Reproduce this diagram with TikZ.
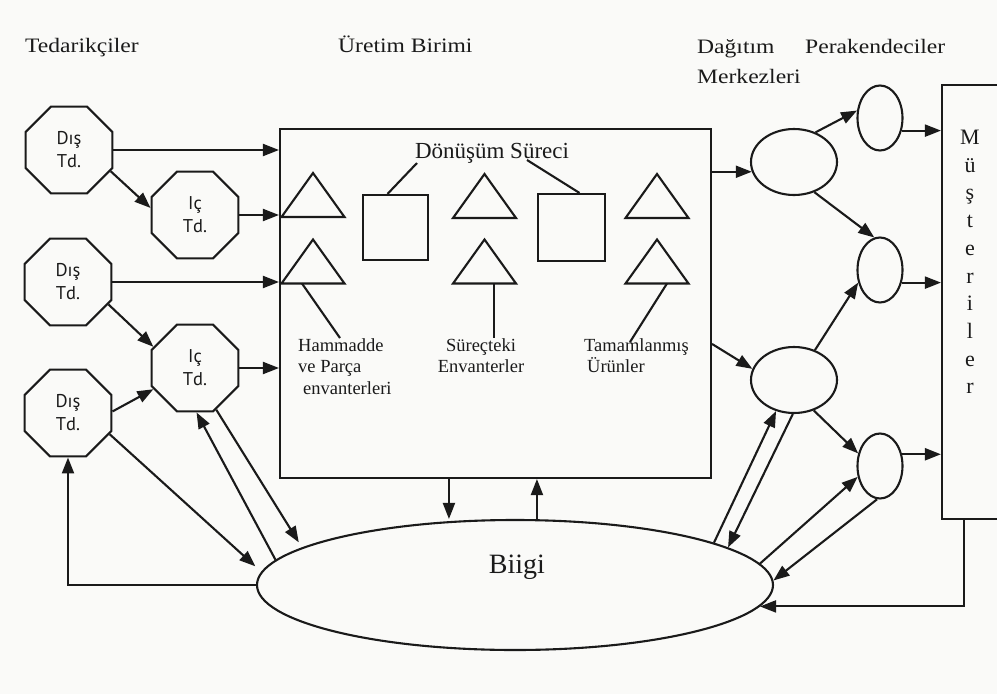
\documentclass[tikz,border=0pt]{standalone}
\usepackage{fontspec}
\setmainfont{Liberation Serif}
\newfontfamily\headfont{Liberation Serif}[FakeStretch=1.15]
\newfontfamily\octfont{PT Sans}
\usetikzlibrary{shapes.geometric,arrows.meta,calc}
\definecolor{ink}{HTML}{1A1A1A}
\definecolor{paper}{HTML}{FAFAF8}

\begin{document}
\begin{tikzpicture}[x=1pt,y=-1pt,
  line/.style={draw=ink,line width=2.1pt},
  arr/.style={line,-{Triangle[length=16pt,width=12pt]}},
  supplier/.style={line,regular polygon,regular polygon sides=8,minimum size=94pt,
    inner sep=0pt,align=center,text=ink,font=\octfont\fontsize{18.5}{23}\selectfont},
  hub/.style={line,ellipse,minimum width=86pt,minimum height=66pt,inner sep=0pt},
  shop/.style={line,ellipse,minimum width=45pt,minimum height=65pt,inner sep=0pt},
  boxnode/.style={line,rectangle,inner sep=0pt},
  head/.style={anchor=base west,inner sep=0pt,text=ink,font=\headfont\fontsize{20.5}{24}\selectfont},
  caption/.style={inner sep=0pt,text=ink,font=\fontsize{18.5}{21.5}\selectfont},
  stock/.pic={\draw[line] (-31.5,22) -- (0,-22) -- (31.5,22) -- cycle;
    \coordinate (-base) at (0,22);}
]
\useasboundingbox (0,0) rectangle (997,694);
\fill[paper] (0,0) rectangle (997,694);
\clip (0,0) rectangle (997,694);

% column headings
\node[head] (tsup) at (25,52) {Tedarikçiler};
\node[head] (tprod) at (338,52) {Üretim Birimi};
\node[head] (tdist) at (697,53) {Dağıtım};
\node[head] (tdist2) at (697,83) {Merkezleri};
\node[head] (tret) at (805,53) {Perakendeciler};

% suppliers
\node[supplier] (d1) at (69,150) {Dış\\Td.};
\node[supplier] (i1) at (195,215) {Iç\\Td.};
\node[supplier] (d2) at (68,282) {Dış\\Td.};
\node[supplier] (i2) at (195,368) {Iç\\Td.};
\node[supplier] (d3) at (68,413) {Dış\\Td.};

% production unit
\node[boxnode,minimum width=431pt,minimum height=349pt] (plant) at (495.5,303.5) {};
\node[inner sep=0pt,text=ink,font=\fontsize{23}{26}\selectfont] (dsurec) at (492,153) {Dönüşüm Süreci};
\node[boxnode,minimum size=65pt] (sq1) at (395.5,227.5) {};
\node[boxnode,minimum size=67pt] (sq2) at (571.5,227.5) {};
\pic (t1) at (313,195) {stock};
\pic (t2) at (313,261.5) {stock};
\pic (t3) at (484.5,196) {stock};
\pic (t4) at (484.5,261.5) {stock};
\pic (t5) at (657,196) {stock};
\pic (t6) at (657,261.5) {stock};
\node[caption,anchor=north west,align=left] (ham) at (298,338) {Hammadde\\ve Parça\\\hspace{5pt}envanterleri};
\node[caption,anchor=north,align=center] (sur) at (481,338) {Süreçteki\\Envanterler};
\node[caption,anchor=north west,align=left] (tam) at (584,338) {Tamamlanmış\\\hspace{3pt}Ürünler};

\draw[line] ($(dsurec.center)+(-75,10)$) -- ($(sq1.north)+(-8,0)$);
\draw[line] ($(dsurec.center)+(35,7)$) -- ($(sq2.north)+(8,0)$);
\draw[line] ($(t2-base)+(-11,0)$) -- ($(ham.north west)+(42,0)$);
\coordinate (t4tag) at ($(t4-base)+(9.5,0)$);
\draw[line] (t4tag) -- (t4tag |- sur.north);
\draw[line] ($(t6-base)+(10,0)$) -- ($(tam.north west)+(46,4)$);

% distribution centres, retailers, customers
\node[hub] (dc1) at (794,162) {};
\node[hub] (dc2) at (794,380) {};
\node[shop] (r1) at (880,118) {};
\node[shop] (r2) at (880,270) {};
\node[shop] (r3) at (880,466) {};
\node[boxnode,minimum width=63pt,minimum height=434pt] (cust) at (973.5,302) {};
\node[inner sep=0pt,align=center,text=ink,font=\fontsize{22}{27.7}\selectfont] (custtxt) at (970,262)
  {M\\ü\\ş\\t\\e\\r\\i\\l\\e\\r};

% information
\node[line,ellipse,minimum width=516pt,minimum height=130pt,inner sep=0pt] (bilgi) at (515,585) {};
\node[inner sep=0pt,text=ink,font=\fontsize{28}{32}\selectfont] (bilgitxt) at (517,567) {Biigi};

% supplier flows
\draw[arr] (d1.east) -- (d1.east -| plant.west);
\draw[arr] (i1.east) -- (i1.east -| plant.west);
\draw[arr] (d2.east) -- (d2.east -| plant.west);
\draw[arr] (i2.east) -- (i2.east -| plant.west);
\draw[arr] (d1.-27) -- (i1.171);
\draw[arr] (d2.-29) -- (i2.153);
\draw[arr] (d3.2) -- (i2.207);

% supplier information links
\draw[arr,shorten >=8pt] (d3.-27) -- (bilgi.177);
\draw[arr,shorten >=6pt] (i2.-63) -- (bilgi.170);
\draw[arr] (bilgi.174) -- (i2.-88);
\draw[arr] (bilgi.west) -| (d3.south);

% production and information
\coordinate (qdown) at ($(plant.south west)+(170,0)$);
\coordinate (qup) at ($(plant.south west)+(258,0)$);
\draw[arr] (qdown) -- (qdown |- bilgi.north);
\draw[arr] (qup |- bilgi.north) -- (qup);

% distribution flows
\coordinate (p2) at ($(plant.north east)+(0,216)$);
\draw[arr] (dc1.193 -| plant.east) -- (dc1.193);
\draw[arr] (p2) -- (dc2.165);
\draw[arr] (dc1.54) -- (r1.162);
\draw[arr] (dc1.-56) -- (r2.100);
\draw[arr] (dc2.55) -- (r2.210);
\draw[arr] (dc2.-57) -- (r3.150);
\draw[arr] (r1.-30) -- (r1.-30 -| cust.west);
\draw[arr] (r2.-30) -- (r2.-30 -| cust.west);
\draw[arr] (r3.28) -- (r3.28 -| cust.west);

% downstream information links
\draw[arr] (bilgi.12) -- (dc2.-120);
\draw[arr] (dc2.-92) -- (bilgi.10);
\draw[arr] (bilgi.5.9) -- (r3.206);
\draw[arr] (r3.-95) -- (bilgi.1);
\coordinate (cdrop) at ($(cust.south west)+(23,0)$);
\draw[arr] (cdrop) |- (bilgi.-5.1);
\end{tikzpicture}
\end{document}
